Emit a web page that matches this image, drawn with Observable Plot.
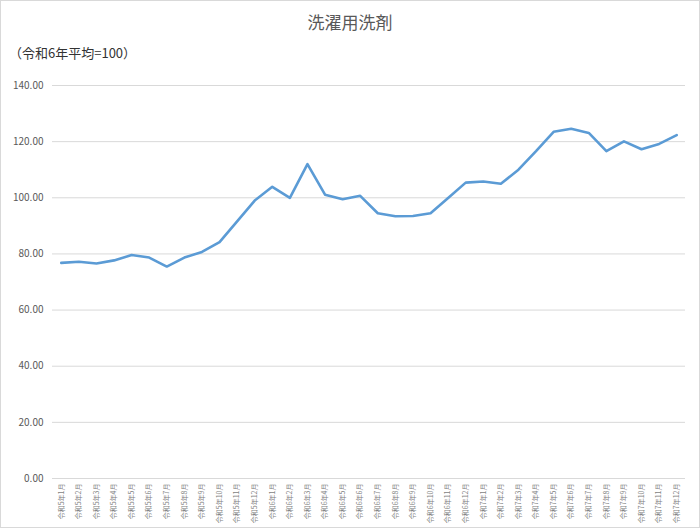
<!DOCTYPE html>
<html>
<head>
<meta charset="utf-8">
<script src="https://cdn.jsdelivr.net/npm/d3@7"></script>
<script src="https://cdn.jsdelivr.net/npm/@observablehq/plot@0.6"></script>
<style>
  html, body { margin: 0; padding: 0; background: #fff; }
  #chart {
    position: relative; width: 700px; height: 528px; box-sizing: border-box;
    border: 1px solid #d9d9d9; background: #fff; overflow: hidden;
    font-family: "Noto Sans CJK JP", "Noto Sans", sans-serif;
  }
  #title {
    position: absolute; left: 0; right: 0; top: 11px; text-align: center;
    font-size: 17px; color: #595959; line-height: 20px;
  }
  #subtitle {
    position: absolute; left: 8px; top: 44px; font-size: 13px; color: #333;
    line-height: 16px;
  }
  #plot { position: absolute; left: 0; top: 69px; }
</style>
</head>
<body>
<div id="chart">
  <div id="title">洗濯用洗剤</div>
  <div id="subtitle">（令和6年平均=100）</div>
  <div id="plot"></div>
</div>
<script>
const months = [
  "令和5年1月","令和5年2月","令和5年3月","令和5年4月","令和5年5月","令和5年6月",
  "令和5年7月","令和5年8月","令和5年9月","令和5年10月","令和5年11月","令和5年12月",
  "令和6年1月","令和6年2月","令和6年3月","令和6年4月","令和6年5月","令和6年6月",
  "令和6年7月","令和6年8月","令和6年9月","令和6年10月","令和6年11月","令和6年12月",
  "令和7年1月","令和7年2月","令和7年3月","令和7年4月","令和7年5月","令和7年6月",
  "令和7年7月","令和7年8月","令和7年9月","令和7年10月","令和7年11月","令和7年12月"
];
const values = [
  76.8, 77.2, 76.6, 77.7, 79.6, 78.7,
  75.5, 78.7, 80.7, 84.2, 91.6, 99.0,
  103.9, 100.0, 112.0, 101.1, 99.5, 100.7,
  94.5, 93.4, 93.5, 94.5, 99.9, 105.4,
  105.8, 105.0, 110.0, 116.6, 123.5, 124.6,
  123.1, 116.6, 120.1, 117.3, 119.2, 122.3
];
const yTicks = [0, 20, 40, 60, 80, 100, 120, 140];

const data = months.map((m, i) => ({month: m, value: values[i]}));

const chart = Plot.plot({
  width: 698,
  height: 458,
  marginLeft: 51,
  marginRight: 14,
  marginTop: 15,
  marginBottom: 50,
  style: {fontFamily: "'Noto Sans CJK JP', 'Noto Sans', sans-serif", background: "transparent"},
  x: {type: "point", domain: months, padding: 0.5, round: false},
  y: {domain: [0, 140]},
  marks: [
    Plot.ruleY(yTicks, {stroke: "#d9d9d9", strokeWidth: 1}),
    Plot.axisY({
      ticks: yTicks, tickSize: 0, tickPadding: 9,
      tickFormat: d => d.toFixed(2),
      fontSize: 10, fill: "#595959", label: null
    }),
    Plot.axisX({
      tickSize: 0, tickPadding: 5, tickRotate: -90, textAnchor: "end",
      fontSize: 7, fill: "#7f7f7f", label: null
    }),
    Plot.line(data, {
      x: "month", y: "value", stroke: "#5b9bd5", strokeWidth: 2.6,
      strokeLinejoin: "round", strokeLinecap: "round"
    })
  ]
});
document.getElementById("plot").appendChild(chart);
</script>
</body>
</html>
